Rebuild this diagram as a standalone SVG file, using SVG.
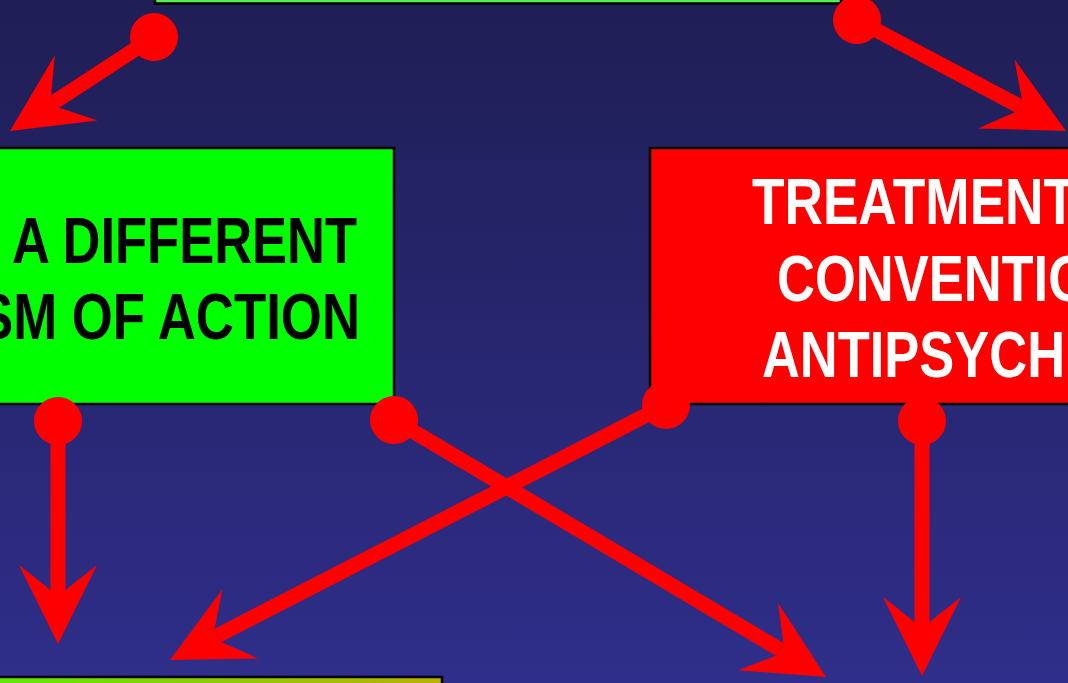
<svg xmlns="http://www.w3.org/2000/svg" width="1068" height="683" viewBox="0 0 1068 683">
  <defs>
    <linearGradient id="bg" x1="0" y1="0" x2="0" y2="1">
      <stop offset="0" stop-color="#1f1e55"/>
      <stop offset="1" stop-color="#2f2e8a"/>
    </linearGradient>
    <linearGradient id="olive" x1="0" y1="0" x2="1" y2="0">
      <stop offset="0" stop-color="#58f000"/>
      <stop offset="1" stop-color="#bab000"/>
    </linearGradient>
    <marker id="head" markerUnits="userSpaceOnUse" orient="auto" refX="0" refY="0" markerWidth="200" markerHeight="200" viewBox="-100 -100 200 200" overflow="visible">
      <path d="M54,0 L-25,-39 L0,-7.5 L0,7.5 L-25,39 Z" fill="#ff0000"/>
    </marker>
    <marker id="dot" markerUnits="userSpaceOnUse" orient="auto" refX="0" refY="0" markerWidth="60" markerHeight="60" viewBox="-30 -30 60 60" overflow="visible">
      <circle cx="0" cy="0" r="24" fill="#ff0000"/>
    </marker>
  </defs>
  <style>
    .box { stroke: #000000; stroke-width: 2.5; }
    .lbl { font-family: "Liberation Sans Narrow", "Liberation Sans", Arial, sans-serif; font-weight: bold; font-size: 64px; }
    .conn { stroke: #ff0000; stroke-width: 15; fill: none; marker-start: url(#dot); marker-end: url(#head); }
  </style>
  <rect x="0" y="0" width="1068" height="683" fill="url(#bg)"/>

  <g id="node-top">
    <rect class="box" x="155" y="-50" width="686" height="53.5" fill="#55ee55"/>
  </g>

  <g id="node-mechanism">
    <rect class="box" x="-300" y="148" width="694" height="256" fill="#00ff00"/>
    <text class="lbl" fill="#000000" x="12" y="263" textLength="345" lengthAdjust="spacingAndGlyphs">A DIFFERENT</text>
    <text class="lbl" fill="#000000" x="-22" y="339" textLength="382" lengthAdjust="spacingAndGlyphs">SM OF ACTION</text>
  </g>

  <g id="node-treatment">
    <rect class="box" x="650" y="148" width="600" height="256" fill="#ff0000"/>
    <text class="lbl" fill="#ffffff" x="752" y="224" textLength="324" lengthAdjust="spacingAndGlyphs">TREATMENT</text>
    <text class="lbl" fill="#ffffff" x="777" y="301" textLength="312" lengthAdjust="spacingAndGlyphs">CONVENTIO</text>
    <text class="lbl" fill="#ffffff" x="762" y="377" textLength="303" lengthAdjust="spacingAndGlyphs">ANTIPSYCH</text>
  </g>

  <g id="node-bottom">
    <rect class="box" x="-50" y="677" width="492" height="60" fill="url(#olive)"/>
  </g>

  <g id="connectors">
    <line class="conn" x1="154" y1="37" x2="55.2" y2="101.5"/>
    <line class="conn" x1="857" y1="20" x2="1018.3" y2="105.7"/>
    <line class="conn" x1="58" y1="421" x2="58" y2="590"/>
    <line class="conn" x1="394" y1="420" x2="779.6" y2="649.4"/>
    <line class="conn" x1="666" y1="405" x2="218" y2="635.3"/>
    <line class="conn" x1="922" y1="421" x2="922" y2="622"/>
  </g>
</svg>
